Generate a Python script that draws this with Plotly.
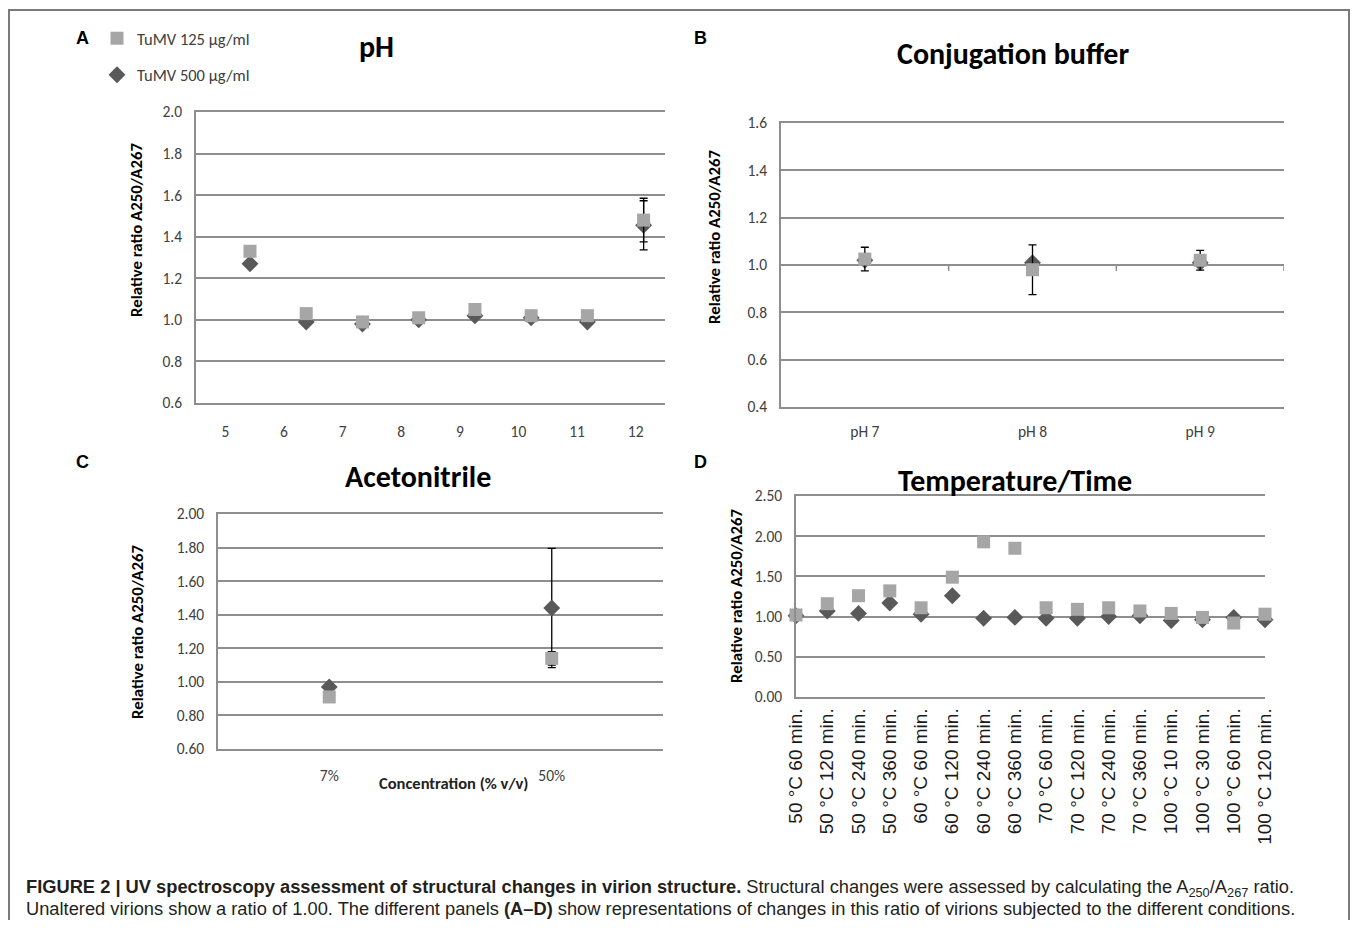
import plotly.graph_objects as go

# page body keeps its default 8px margin, so the figure is 16px smaller than the window
W, H = 1342, 912
OFF = 8

# ---------------- data ----------------
# Panel A: pH
ph_values = [5, 6, 7, 8, 9, 10, 11, 12]
ph_labels = ["5", "6", "7", "8", "9", "10", "11", "12"]
a_125 = [1.33, 1.03, 0.99, 1.01, 1.05, 1.02, 1.02, 1.48]
a_125_err = [None, None, None, None, None, None, None, 0.105]
a_500 = [1.27, 0.99, 0.98, 1.00, 1.02, 1.01, 0.99, 1.455]
a_500_err = [None, None, None, None, None, None, None, 0.118]

# Panel B: conjugation buffer
b_labels = ["pH 7", "pH 8", "pH 9"]
b_125 = [1.025, 0.98, 1.02]
b_125_err = [0.05, 0.105, 0.042]
b_500 = [1.02, 1.01, 1.01]

# Panel C: acetonitrile
c_labels = ["7%", "50%"]
c_125 = [0.91, 1.14]
c_125_err = [None, 0.04]
c_500 = [0.97, 1.44]
c_500_err = [None, 0.355]

# Panel D: temperature / time
d_labels = ["50 °C 60 min.", "50 °C 120 min.", "50 °C 240 min.", "50 °C 360 min.",
            "60 °C 60 min.", "60 °C 120 min.", "60 °C 240 min.", "60 °C 360 min.",
            "70 °C 60 min.", "70 °C 120 min.", "70 °C 240 min.", "70 °C 360 min.",
            "100 °C 10 min.", "100 °C 30 min.", "100 °C 60 min.", "100 °C 120 min."]
d_125 = [1.02, 1.16, 1.26, 1.32, 1.11, 1.49, 1.93, 1.85,
         1.11, 1.09, 1.11, 1.07, 1.04, 0.99, 0.92, 1.03]
d_500 = [1.01, 1.07, 1.04, 1.17, 1.03, 1.26, 0.98, 0.99,
         0.98, 0.98, 1.00, 1.01, 0.95, 0.96, 0.99, 0.96]

name_125 = "TuMV 125 µg/ml"
name_500 = "TuMV 500 µg/ml"

# ---------------- style ----------------
C125 = "#a6a6a6"
C500 = "#595959"
GRID = "#8e8e8e"
TICKC = "#404040"
FONT = "Carlito, Lato, sans-serif"
ARIAL = "Liberation Sans, Arial, sans-serif"
TICK_SIZE = 15.5


def px(x):
    return (x - OFF) / W


def py(y):
    return 1 - (y - OFF) / H


sq = dict(symbol="square", size=13, color=C125)
dm = dict(symbol="diamond", size=13, color=C500)
err_style = dict(color="black", thickness=1.3, width=4)

fig = go.Figure()

# Panel A
fig.add_trace(go.Scatter(x=ph_values, y=a_500, mode="markers", marker=dm, name=name_500,
                         legendgroup="g500", legendrank=2,
                         error_y=dict(type="data", array=a_500_err, **err_style),
                         xaxis="x", yaxis="y", cliponaxis=False))
fig.add_trace(go.Scatter(x=ph_values, y=a_125, mode="markers", marker=sq, name=name_125,
                         legendgroup="g125", legendrank=1,
                         error_y=dict(type="data", array=a_125_err, **err_style),
                         xaxis="x", yaxis="y", cliponaxis=False))
# category label axis for panel A
fig.add_trace(go.Scatter(x=ph_labels, y=[None] * len(ph_labels), mode="markers",
                         xaxis="x5", yaxis="y", showlegend=False, hoverinfo="skip"))

# Panel B
fig.add_trace(go.Scatter(x=b_labels, y=b_500, mode="markers", marker=dm, name=name_500,
                         xaxis="x2", yaxis="y2", showlegend=False, cliponaxis=False))
fig.add_trace(go.Scatter(x=b_labels, y=b_125, mode="markers", marker=sq, name=name_125,
                         error_y=dict(type="data", array=b_125_err, **err_style),
                         xaxis="x2", yaxis="y2", showlegend=False, cliponaxis=False))

# Panel C
fig.add_trace(go.Scatter(x=c_labels, y=c_500, mode="markers", marker=dm, name=name_500,
                         error_y=dict(type="data", array=c_500_err, **err_style),
                         xaxis="x3", yaxis="y3", showlegend=False, cliponaxis=False))
fig.add_trace(go.Scatter(x=c_labels, y=c_125, mode="markers", marker=sq, name=name_125,
                         error_y=dict(type="data", array=c_125_err, **err_style),
                         xaxis="x3", yaxis="y3", showlegend=False, cliponaxis=False))

# Panel D
fig.add_trace(go.Scatter(x=d_labels, y=d_500, mode="markers", marker=dm, name=name_500,
                         xaxis="x4", yaxis="y4", showlegend=False, cliponaxis=False))
fig.add_trace(go.Scatter(x=d_labels, y=d_125, mode="markers", marker=sq, name=name_125,
                         xaxis="x4", yaxis="y4", showlegend=False, cliponaxis=False))


def yax(dom, rng, dtick, fmt, anchor):
    return dict(domain=dom, range=rng, dtick=dtick, tick0=0, tickformat=fmt,
                showgrid=True, gridcolor=GRID, gridwidth=1.5,
                showline=True, linecolor=GRID, linewidth=1.5, zeroline=False,
                ticks="", ticklabelstandoff=9, automargin=False,
                tickfont=dict(family=FONT, size=TICK_SIZE, color=TICKC),
                anchor=anchor, fixedrange=True)


def xax(dom, anchor, **kw):
    d = dict(domain=dom, showgrid=False, showline=True, linecolor=GRID, linewidth=1.5,
             mirror=True, zeroline=False, ticks="", automargin=False,
             tickfont=dict(family=FONT, size=TICK_SIZE, color=TICKC),
             anchor=anchor, fixedrange=True)
    d.update(kw)
    return d


dA_x = [px(196), px(665)]
dA_y = [py(403), py(112)]
dB_x = [px(781), px(1284)]
dB_y = [py(407), py(123)]
dC_x = [px(218), px(663)]
dC_y = [py(749), py(514)]
dD_x = [px(796), px(1265)]
dD_y = [py(697), py(496)]

layout = dict(
    width=W, height=H, autosize=False,
    margin=dict(l=0, r=0, t=0, b=0, pad=0, autoexpand=False),
    paper_bgcolor="white", plot_bgcolor="white",
    font=dict(family=FONT, color=TICKC),
    xaxis=xax(dA_x, "y", range=[4.04, 12.38], showticklabels=False),
    xaxis5=xax(dA_x, "y", overlaying="x", type="category", range=[-0.5, 7.5],
               ticklabelstandoff=17, showline=False, mirror=False),
    yaxis=yax(dA_y, [0.6, 2.0], 0.2, ".1f", "x"),
    xaxis2=xax(dB_x, "y2", type="category", range=[-0.5, 2.5], ticklabelstandoff=10),
    yaxis2=yax(dB_y, [0.4, 1.6], 0.2, ".1f", "x2"),
    xaxis3=xax(dC_x, "y3", type="category", range=[-0.5, 1.5], ticklabelstandoff=12),
    yaxis3=yax(dC_y, [0.6, 2.0], 0.2, ".2f", "x3"),
    xaxis4=xax(dD_x, "y4", type="category", range=[0, 15], tickangle=-90,
               ticklabelstandoff=2, tickfont=dict(family=ARIAL, size=19, color="#1a1a1a")),
    yaxis4=yax(dD_y, [0, 2.5], 0.5, ".2f", "x4"),
    showlegend=True,
    legend=dict(x=px(97), y=py(21), xanchor="left", yanchor="top",
                font=dict(family=FONT, size=16.5, color=TICKC),
                tracegroupgap=12, traceorder="grouped", bgcolor="rgba(0,0,0,0)",
                itemwidth=30),
)
fig.update_layout(**layout)

ann = []


def add_text(x, y, text, size, family=FONT, bold=False, angle=0, color="#000000",
             xanchor="center"):
    ann.append(dict(x=px(x), y=py(y), xref="paper", yref="paper", showarrow=False,
                    text=("<b>%s</b>" % text) if bold else text, textangle=angle,
                    xanchor=xanchor, yanchor="middle",
                    font=dict(family=family, size=size, color=color)))


# panel letters
for lx, ly, t in [(82, 38, "A"), (700, 38, "B"), (82, 462, "C"), (700, 462, "D")]:
    add_text(lx, ly, t, 18, family=ARIAL, bold=True)

# panel titles
add_text(376, 47, "pH", 30, bold=True)
add_text(1013, 54, "Conjugation buffer", 30, bold=True)
add_text(418, 476, "Acetonitrile", 30, bold=True)
add_text(1015, 480, "Temperature/Time", 30, bold=True)

# y-axis titles
ytitle = "Relative ratio A250/A267"
add_text(136, 230, ytitle, 16.8, bold=True, angle=-90)
add_text(714, 237, ytitle, 16.8, bold=True, angle=-90)
add_text(137, 632, ytitle, 16.8, bold=True, angle=-90)
add_text(736, 596, ytitle, 16.8, bold=True, angle=-90)

# panel C x-axis title
add_text(453, 783, "Concentration (% v/v)", 16.5, bold=True, color="#222222")

# caption
cap1 = ("<b>FIGURE 2 | UV spectroscopy assessment of structural changes in virion structure.</b> "
        "Structural changes were assessed by calculating the A<sub>250</sub>/A<sub>267</sub> ratio.")
cap2 = ("Unaltered virions show a ratio of 1.00. The different panels <b>(A–D)</b> show "
        "representations of changes in this ratio of virions subjected to the different conditions.")
add_text(24, 888, cap1, 18.3, family=ARIAL, color="#231f20", xanchor="left")
add_text(24, 908, cap2, 18.3, family=ARIAL, color="#231f20", xanchor="left")

fig.update_layout(annotations=ann)

shapes = []
# figure frame
shapes.append(dict(type="rect", xref="paper", yref="paper", x0=px(9), x1=px(1349),
                   y0=-0.05, y1=py(10), line=dict(color="#7a7a7a", width=2)))
# panel B: category-boundary tick marks on the 1.0 crossing line
for bx in [0.5, 1.5, 2.5]:
    shapes.append(dict(type="line", xref="x2", yref="y2", x0=bx, x1=bx, y0=1.0, y1=0.975,
                       line=dict(color=GRID, width=1.5)))
fig.update_layout(shapes=shapes)

fig.write_html("out.html")
